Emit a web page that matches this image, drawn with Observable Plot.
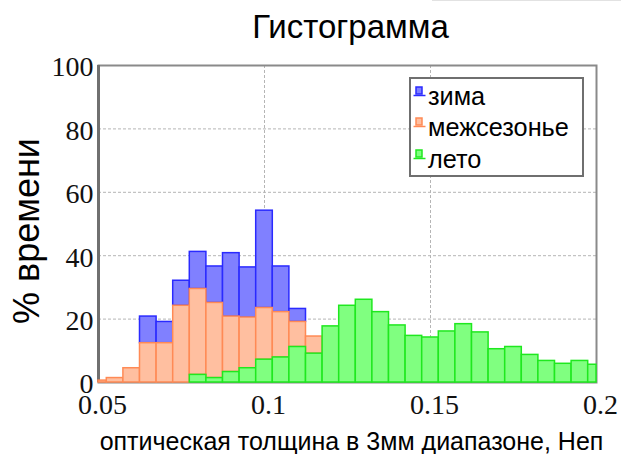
<!DOCTYPE html>
<html>
<head>
<meta charset="utf-8">
<script src="https://cdn.jsdelivr.net/npm/d3@7"></script>
<script src="https://cdn.jsdelivr.net/npm/@observablehq/plot@0.6"></script>
<style>
  html, body { margin: 0; padding: 0; background: #fff; }
  #wrap { position: relative; width: 621px; height: 454px; overflow: hidden; }
  #legend { position: absolute; left: 409px; top: 77px; width: 171px; height: 96px;
    border: 2px solid #6f6f6f; background: #fff; font-family: "Liberation Sans", Arial, sans-serif;
    font-size: 25.3px; color: #000; box-sizing: content-box; }
  .item { position: absolute; left: 2px; height: 30px; display: flex; align-items: center; }
  .item svg { margin-right: 2px; margin-top: -10px; }
  #topline { position: absolute; left: 432px; top: 0; width: 189px; height: 1px; background: #e2e2e2; }
</style>
</head>
<body>
<div id="wrap"><div id="topline"></div></div>
<script>
// ---- data ----
const title = "Гистограмма";
const xLabel = "оптическая толщина в 3мм диапазоне, Неп";
const yLabel = "% времени";
const seasons = ["зима", "межсезонье", "лето"];
const binWidth = 0.005;
const binCenters = [0.05,0.055,0.06,0.065,0.07,0.075,0.08,0.085,0.09,0.095,0.1,0.105,0.11,0.115,0.12,0.125,0.13,0.135,0.14,0.145,0.15,0.155,0.16,0.165,0.17,0.175,0.18,0.185,0.19,0.195,0.2];
// visible (stacked) segment height of each season, per bin
const winter = [0,0,0,8.4,6.7,7.9,11.7,11.5,20.0,15.8,30.7,14.4,4.1,0,0,0,0,0,0,0,0,0,0,0,0,0,0,0,0,0,0];
const offSeason = [0.6,1.4,4.5,12.4,12.4,24.2,27.1,23.7,17.5,16.0,16.3,14.3,7.9,5.4,0,0,0,0,0,0,0,0,0,0,0,0,0,0,0,0,0];
const summer = [0,0,0,0,0,0,2.4,1.4,3.3,4.5,7.2,7.9,11.2,9.1,17.7,24.2,26.1,22.2,18.0,14.7,14.2,16.1,18.4,15.8,10.5,11.2,8.7,6.8,5.9,6.8,5.6];
const xTicks = [0.05, 0.1, 0.15, 0.2];
const yTicks = [0, 20, 40, 60, 80, 100];

// ---- styles ----
const fills = {"зима": "#8080ff", "межсезонье": "#ffbfa0", "лето": "#80ff80"};
const strokes = {"зима": "#2a2aff", "межсезонье": "#ff8a55", "лето": "#1fe81f"};

const seriesValues = {"зима": winter, "межсезонье": offSeason, "лето": summer};
const table = [];
for (const s of seasons) {
  binCenters.forEach((c, i) => {
    const v = seriesValues[s][i];
    if (v > 0 || s === "лето") table.push({center: c, value: v, season: s});
  });
}

const chart = Plot.plot({
  width: 621,
  height: 454,
  marginLeft: 98,
  marginRight: 25,
  marginTop: 65,
  marginBottom: 72,
  x: {domain: [0.05, 0.2]},
  y: {domain: [0, 100]},
  color: {type: "identity"},
  style: {background: "transparent", overflow: "visible"},
  marks: [
    Plot.gridY(yTicks.slice(1, -1), {stroke: "#b5b5b5", strokeOpacity: 1, strokeDasharray: "3,2"}),
    Plot.gridX(xTicks.slice(1, -1), {stroke: "#b5b5b5", strokeOpacity: 1, strokeDasharray: "3,2"}),
    Plot.frame({stroke: "#8a8a8a", strokeWidth: 2}),
    Plot.ruleX([0.05], {stroke: "#707070", strokeWidth: 3}),
    Plot.rectY(table, Plot.stackY({
      x1: d => Math.max(0.05, d.center - binWidth / 2),
      x2: d => Math.min(0.2, d.center + binWidth / 2),
      y: "value",
      z: "season",
      order: ["лето", "межсезонье", "зима"],
      fill: d => fills[d.season],
      stroke: d => strokes[d.season],
      strokeWidth: 1.5
    })),
    Plot.axisY(yTicks, {tickSize: 0, tickPadding: 5, dy: 2, fontSize: 28, fontFamily: "Liberation Serif", fill: "#111", label: null}),
    Plot.axisX(xTicks, {tickSize: 0, tickPadding: 12, dx: 4, fontSize: 28, fontFamily: "Liberation Serif", fill: "#111", tickFormat: d => String(d), label: null}),
    Plot.text([title], {frameAnchor: "top", dy: -51, dx: 3, fontSize: 33, fontFamily: "Liberation Sans", fill: "#000"}),
    Plot.text([xLabel], {frameAnchor: "bottom", dy: 67, dx: 4, fontSize: 25, fontFamily: "Liberation Sans", fill: "#000"}),
    Plot.text([yLabel], {frameAnchor: "left", textAnchor: "middle", lineAnchor: "middle", rotate: -90, dx: -71, dy: 7, fontSize: 36, fontFamily: "Liberation Sans", fill: "#000"})
  ]
});
const wrap = document.getElementById("wrap");
wrap.insertBefore(chart, wrap.firstChild);

// legend (HTML overlay)
const legend = document.createElement("div");
legend.id = "legend";
seasons.forEach((s, i) => {
  const item = document.createElement("div");
  item.className = "item";
  item.style.top = (2 + i * 31.5) + "px";
  item.innerHTML = `<svg width="13" height="11"><rect x="3" y="1" width="6" height="7" fill="${fills[s]}" stroke="${strokes[s]}" stroke-width="1.5"/><line x1="0.5" x2="12.5" y1="9.5" y2="9.5" stroke="${strokes[s]}" stroke-width="1.5"/></svg><span>${s}</span>`;
  legend.appendChild(item);
});
wrap.appendChild(legend);
</script>
</body>
</html>
